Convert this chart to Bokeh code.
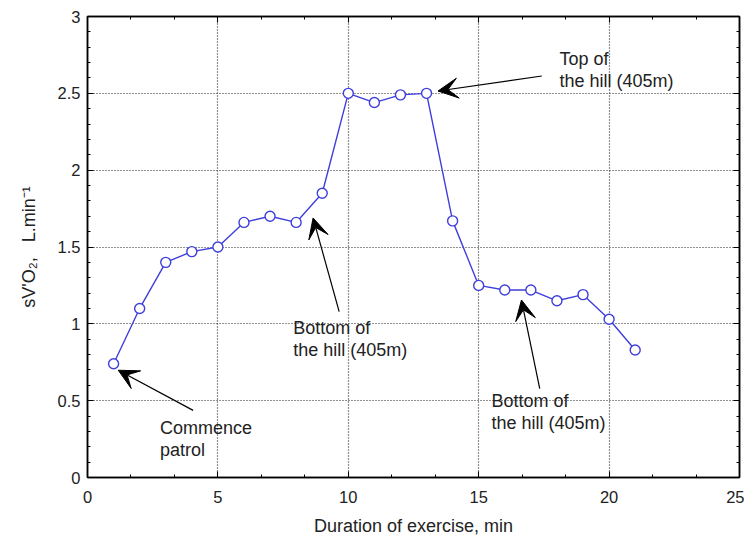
import numpy as np
from bokeh.plotting import figure
from bokeh.models import Range1d, FixedTicker, LinearAxis, Arrow, VeeHead, ColumnDataSource
from bokeh.core.properties import value
from bokeh.embed import file_html
from bokeh.resources import INLINE

# ---- data ----
minutes = list(range(1, 22))
vo2 = [0.74, 1.10, 1.40, 1.47, 1.50, 1.66, 1.70, 1.66, 1.85, 2.50, 2.44,
       2.49, 2.50, 1.67, 1.25, 1.22, 1.22, 1.15, 1.19, 1.03, 0.83]

x_ticks = [0, 5, 10, 15, 20, 25]
y_ticks = [0, 0.5, 1, 1.5, 2, 2.5, 3]
y_tick_labels = ["0", "0.5", "1", "1.5", "2", "2.5", "3"]

ann_texts = ["Top of\nthe hill (405m)", "Bottom of\nthe hill (405m)",
             "Bottom of\nthe hill (405m)", "Commence\npatrol"]
ann_text_x = [18.1, 7.89, 15.49, 2.78]
ann_text_y = [2.79, 1.04, 0.56, 0.385]
arrow_x0 = [17.42, 9.65, 17.34, 4.05]
arrow_y0 = [2.613, 1.079, 0.579, 0.437]
arrow_x1 = [13.44, 8.65, 16.64, 1.18]
arrow_y1 = [2.515, 1.689, 1.155, 0.698]

FONT = "Liberation Sans"
TXT = "#222222"
BLUE = "#3f3fdc"

p = figure(width=744, height=538, x_range=Range1d(0, 25), y_range=Range1d(0, 3),
           output_backend="svg", toolbar_location=None,
           min_border_left=87, min_border_right=5, min_border_top=16, min_border_bottom=61)
p.background_fill_color = "white"
p.border_fill_color = "white"
p.outline_line_color = "black"
p.outline_line_width = 1.5

# extra axes for ticks on top and right (labels not drawn)
p.add_layout(LinearAxis(major_label_text_font_size="1px", major_label_text_color=None,
                        major_label_standoff=0), "above")
p.add_layout(LinearAxis(major_label_text_font_size="1px", major_label_text_color=None,
                        major_label_standoff=0), "right")

xt = FixedTicker(ticks=x_ticks, minor_ticks=[float(v) for v in np.arange(0, 25.001, 5 / 3)])
yt = FixedTicker(ticks=y_ticks, minor_ticks=[round(float(v), 2) for v in np.arange(0, 3.001, 0.1)])

for ax in p.xaxis:
    ax.ticker = xt
for ax in p.yaxis:
    ax.ticker = yt
    ax.major_label_overrides = {float(t): s for t, s in zip(y_ticks, y_tick_labels)}

for ax in list(p.xaxis) + list(p.yaxis):
    ax.axis_line_color = "black"
    ax.axis_line_width = 1.5
    ax.major_tick_in = 6
    ax.major_tick_out = 0
    ax.minor_tick_in = 3
    ax.minor_tick_out = 0
    ax.major_tick_line_color = "black"
    ax.minor_tick_line_color = "black"
    ax.major_label_text_font = FONT

bx = p.below[0]
bx.major_label_text_color = TXT
bx.major_label_text_font_size = "16.5px"
bx.major_label_standoff = 13
bx.axis_label = "Duration of exercise, min"
bx.axis_label_text_font = FONT
bx.axis_label_text_font_size = "18px"
bx.axis_label_text_font_style = "normal"
bx.axis_label_text_color = TXT
bx.axis_label_standoff = 10

ly = p.left[0]
ly.major_label_text_color = TXT
ly.major_label_text_font_size = "16.5px"
ly.major_label_standoff = 7
ly.axis_label = "sV'O\u2082,\u00a0\u00a0\u00a0L.min\u207b\u00b9"
ly.axis_label_text_font = FONT
ly.axis_label_text_font_size = "18px"
ly.axis_label_text_font_style = "normal"
ly.axis_label_text_color = TXT
ly.axis_label_standoff = 16

for g in (p.xgrid, p.ygrid):
    g.grid_line_color = "#222222"
    g.grid_line_dash = "1 2"
    g.grid_line_width = 1.2

src = ColumnDataSource(dict(x=minutes, y=vo2))
p.line("x", "y", source=src, line_color=BLUE, line_width=1.4)
p.scatter("x", "y", source=src, marker="circle", size=10, fill_color="white",
          line_color=BLUE, line_width=1.4)

asrc = ColumnDataSource(dict(x=ann_text_x, y=ann_text_y, t=ann_texts))
p.text("x", "y", text="t", source=asrc, text_font=value(FONT), text_font_size="18px",
       text_color=TXT, text_align="left", text_baseline="top", text_line_height=1.1)

for xs, ys, xe, ye in zip(arrow_x0, arrow_y0, arrow_x1, arrow_y1):
    p.add_layout(Arrow(end=VeeHead(size=20, fill_color="black", line_color="black"),
                       x_start=xs, y_start=ys, x_end=xe, y_end=ye,
                       line_color="black", line_width=1.2))

open("out.html", "w").write(file_html(p, INLINE))
